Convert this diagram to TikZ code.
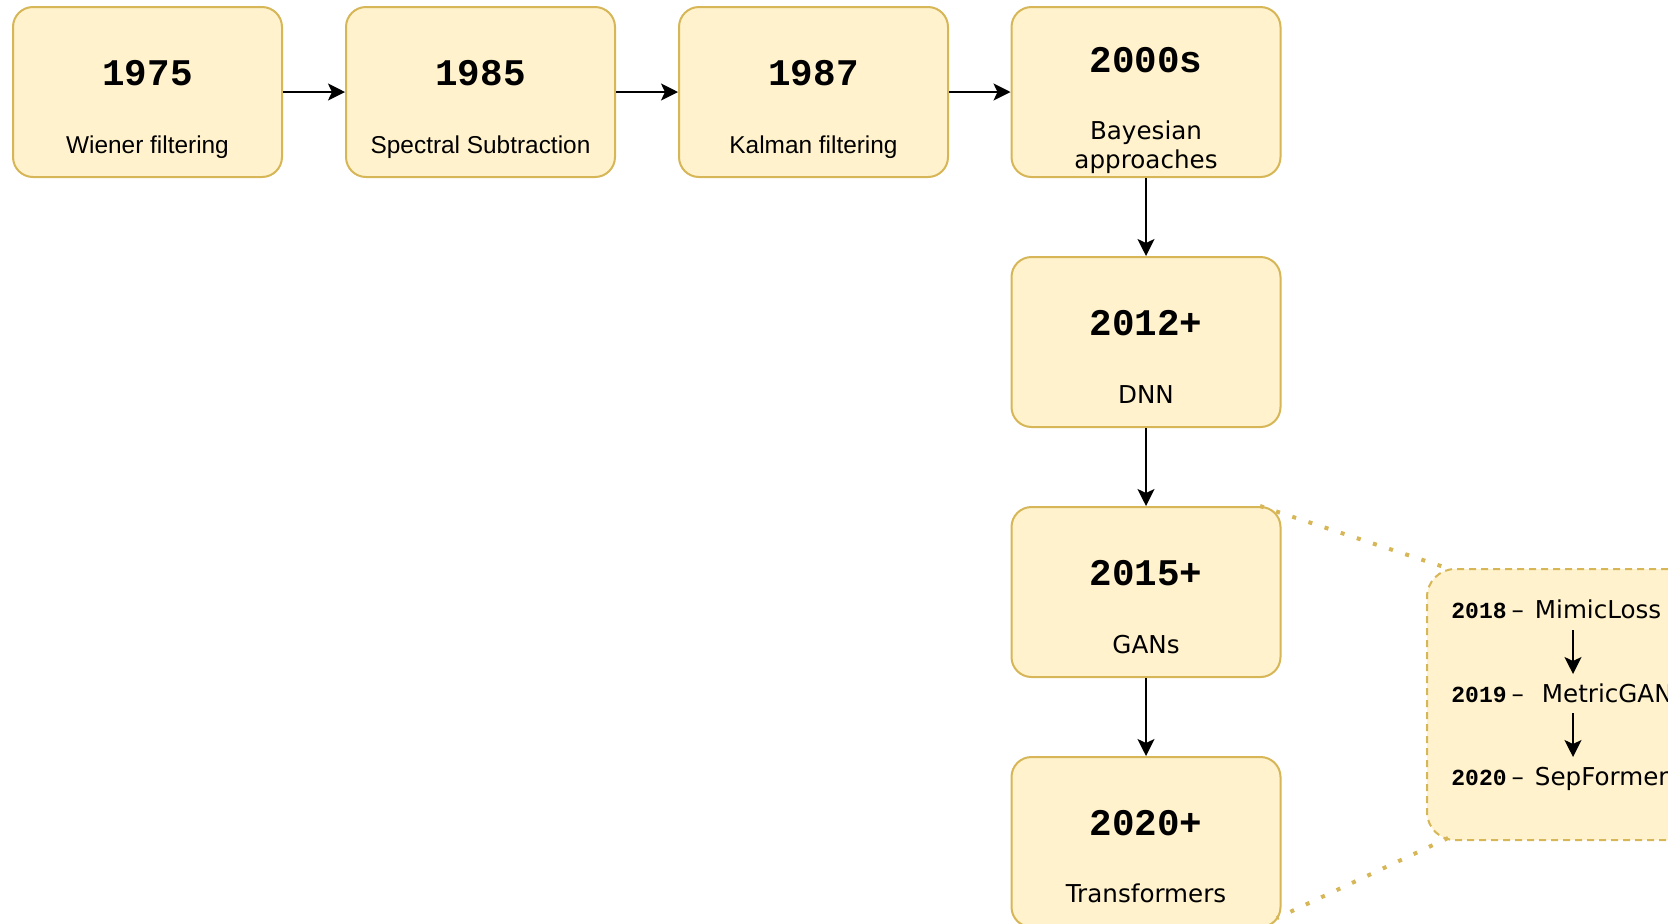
\documentclass[tikz,border=0pt]{standalone}
\usepackage{fontspec}
\setmainfont{DejaVu Sans}
\newfontfamily\helv{Liberation Sans}
\newfontfamily\cour{Liberation Mono}
\usetikzlibrary{arrows.meta,calc}
\definecolor{boxfill}{HTML}{FFF2CC}
\definecolor{boxline}{HTML}{D6B656}
\newcommand{\yr}[1]{{\cour\bfseries\fontsize{11.5pt}{14pt}\selectfont #1}}
\begin{document}
\begin{tikzpicture}[x=0.5pt,y=-0.5pt,
  era/.style={draw=boxline, fill=boxfill, line width=1pt, rounded corners=10pt,
    minimum width=134.5pt, minimum height=85pt, inner sep=0pt},
  zoomframe/.style={draw=boxline, fill=boxfill, line width=1pt, dash pattern=on 3.5pt off 2.5pt,
    rounded corners=14pt, minimum width=146.5pt, minimum height=135.5pt, inner sep=0pt},
  yearlabel/.style={anchor=base, inner sep=0pt, font=\cour\bfseries\fontsize{18.8pt}{22pt}\selectfont},
  oldlabel/.style={anchor=base, inner sep=0pt, font=\helv\fontsize{12.2pt}{14.7pt}\selectfont},
  newlabel/.style={anchor=base, inner sep=0pt, font=\fontsize{12.3pt}{14.7pt}\selectfont},
  detail/.style={anchor=base west, inner sep=0pt, font=\fontsize{12.3pt}{14.7pt}\selectfont},
  flow/.style={draw=black, line width=1pt, -{Stealth[length=8.5pt, width=8.5pt, inset=2pt]}},
  zoomline/.style={draw=boxline, line width=2pt, line cap=butt, dash pattern=on 2pt off 6.5pt}
]
\useasboundingbox (0,0) rectangle (1668,923);
\clip (0,0) rectangle (1668,923);

% timeline boxes
\node[era] (b1) at (147.5,92) {};
\node[era] (b2) at (480.5,92) {};
\node[era] (b3) at (813.5,92) {};
\node[era] (b4) at (1146,92) {};
\node[era] (dnn) at (1146,342) {};
\node[era] (gans) at (1146,592) {};
\node[era] (trans) at (1146,842) {};

\node[yearlabel] (y1) at ($(b1.north)+(0,79)$) {1975};
\node[oldlabel] (t1) at ($(b1.north)+(0,147)$) {Wiener filtering};
\node[yearlabel] (y2) at ($(b2.north)+(0,79)$) {1985};
\node[oldlabel] (t2) at ($(b2.north)+(0,147)$) {Spectral Subtraction};
\node[yearlabel] (y3) at ($(b3.north)+(0,79)$) {1987};
\node[oldlabel] (t3) at ($(b3.north)+(0,147)$) {Kalman filtering};
\node[yearlabel] (y4) at ($(b4.north)+(0,66)$) {2000s};
\node[newlabel] (t4a) at ($(b4.north)+(0,133)$) {Bayesian};
\node[newlabel] (t4b) at ($(b4.north)+(0,162.5)$) {approaches};
\node[yearlabel] (y5) at ($(dnn.north)+(0,79)$) {2012+};
\node[newlabel] (t5) at ($(dnn.north)+(0,147)$) {DNN};
\node[yearlabel] (y6) at ($(gans.north)+(0,79)$) {2015+};
\node[newlabel] (t6) at ($(gans.north)+(0,147)$) {GANs};
\node[yearlabel] (y7) at ($(trans.north)+(0,79)$) {2020+};
\node[newlabel] (t7) at ($(trans.north)+(0,146)$) {Transformers};

% connectors
\draw[flow] (b1) -- (b2);
\draw[flow] (b2) -- (b3);
\draw[flow] (b3) -- (b4);
\draw[flow] (b4) -- (dnn);
\draw[flow] (dnn) -- (gans);
\draw[flow] (gans) -- (trans);

% detail box
\node[zoomframe] (zoombox) at (1573.5,704.5) {};
\node[detail] (d1) at (1451,618) {\yr{2018}\hspace{2.5pt}–\hspace{5.5pt}MimicLoss};
\node[detail] (d2) at (1451,702) {\yr{2019}\hspace{2.5pt}–\hspace{9pt}MetricGAN};
\node[detail] (d3) at (1451,785) {\yr{2020}\hspace{2.5pt}–\hspace{5.5pt}SepFormer};
\coordinate (a1) at (1573,630);
\coordinate (a2) at (1573,674);
\coordinate (a3) at (1573,713);
\coordinate (a4) at (1573,757);
\draw[flow] (a1) -- (a2);
\draw[flow] (a3) -- (a4);

% zoom-in lines from the GANs / Transformers column to the detail box
\coordinate (gt) at (1260,506);
\coordinate (zt) at (1453,570);
\coordinate (zb) at (1448,838);
\coordinate (tb) at (1277,918);
\draw[zoomline] (gt) -- (zt);
\draw[zoomline] (zb) -- (tb);
\end{tikzpicture}
\end{document}
